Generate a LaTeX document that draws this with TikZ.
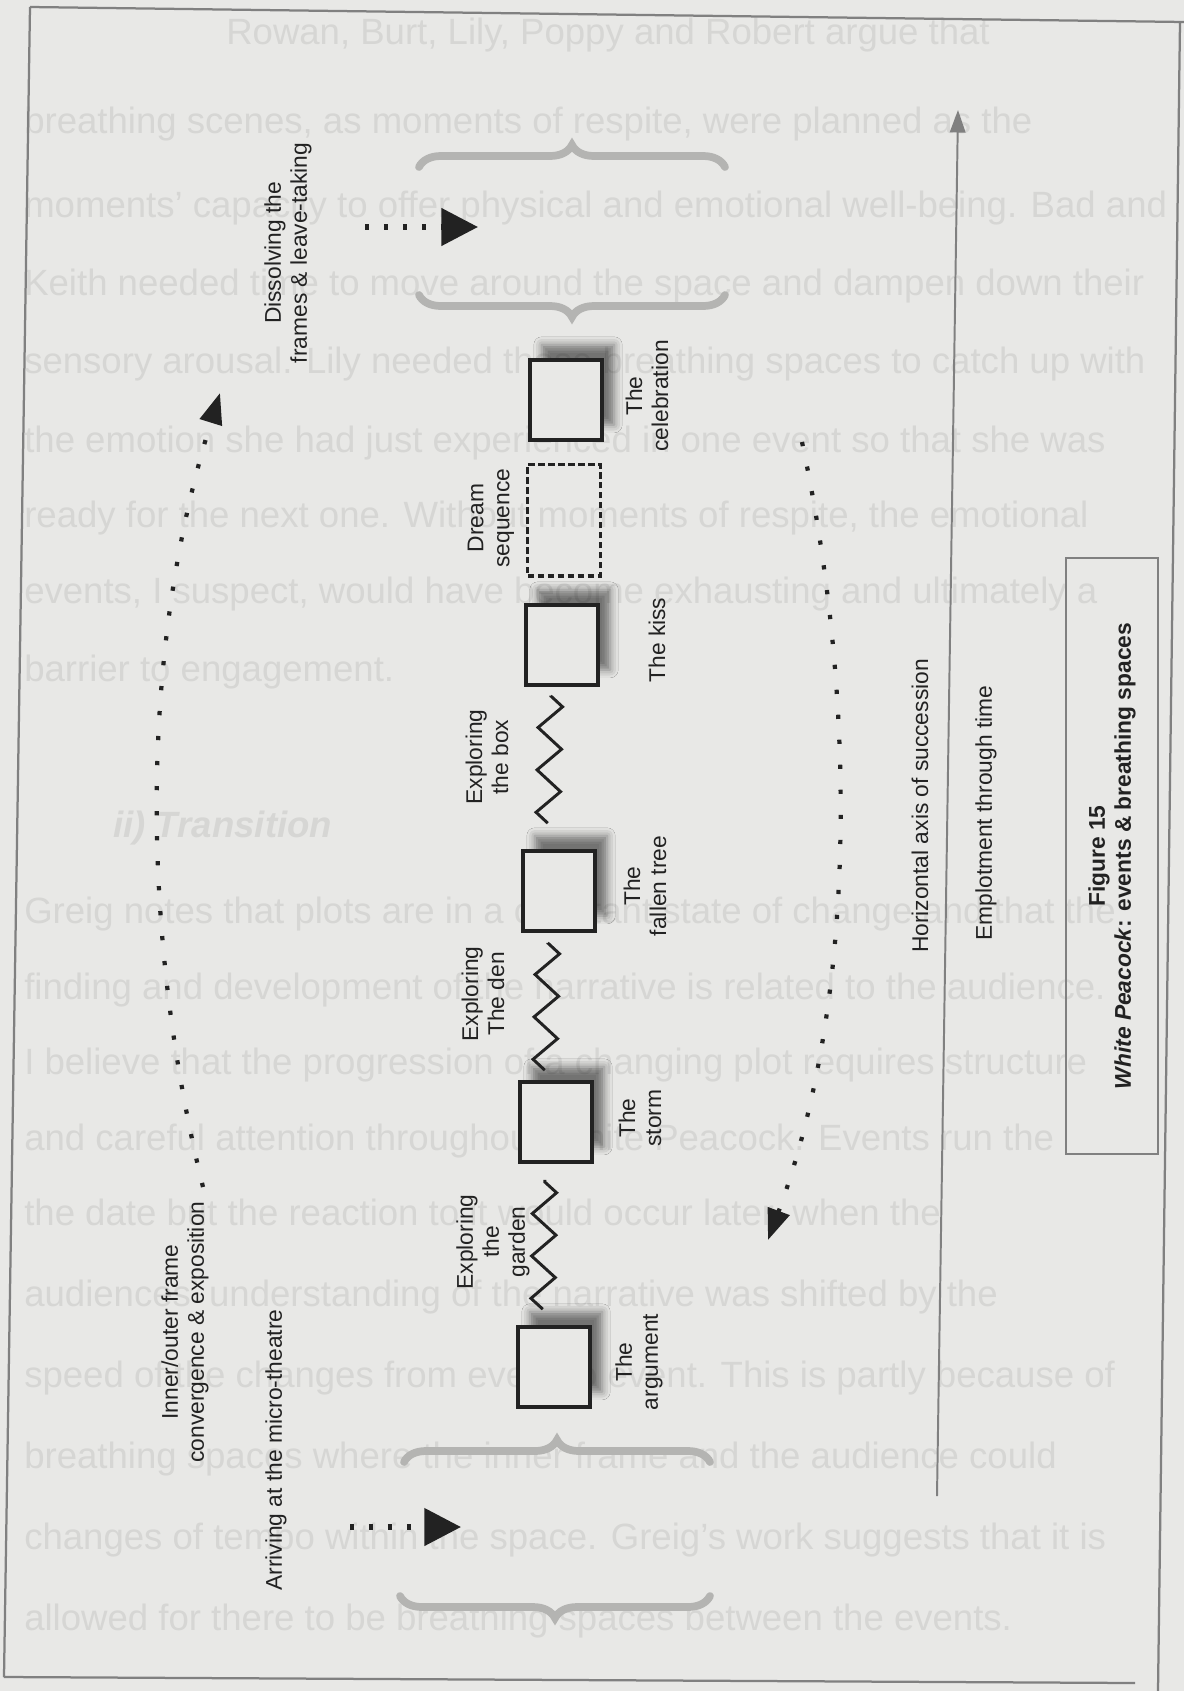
\documentclass[tikz,border=0pt]{standalone}
\usepackage{fontspec}
\setmainfont{Liberation Sans}
\usetikzlibrary{arrows.meta,decorations.pathmorphing,decorations.pathreplacing,shadows.blur,positioning}
\definecolor{paper}{RGB}{232,232,230}
\definecolor{ghost}{RGB}{214,214,212}
\definecolor{ink}{RGB}{34,34,34}
\definecolor{bracegrey}{RGB}{180,180,178}
\definecolor{axisgrey}{RGB}{128,128,128}
\begin{document}
\begin{tikzpicture}[x=0.025cm,y=-0.025cm,
	lbl/.style={rotate=90,align=center,text=ink,inner sep=0pt,font=\fontsize{16.2}{18.5}\selectfont},
	ghostline/.style={anchor=base west,inner sep=0pt,text=ghost,font=\fontsize{26}{30}\selectfont},
	eventbox/.style={draw=ink,line width=2.6pt,fill=paper,minimum width=1.81cm,minimum height=2cm,inner sep=0pt,
		blur shadow={shadow xshift=0.3cm,shadow yshift=0.38cm,shadow blur radius=0.2cm,shadow opacity=50}},
	dreambox/.style={draw=ink,line width=2.4pt,dash pattern=on 4.5pt off 2.6pt,minimum width=1.81cm,minimum height=2.79cm,inner sep=0pt},
	zig/.style={draw=ink,line width=2.1pt,decorate,decoration={zigzag,segment length=1.06cm,amplitude=0.3cm}},
	dotarc/.style={draw=ink,line width=3pt,dash pattern=on 3pt off 14.8pt,-{Triangle[length=22pt,width=16pt]}},
	dotarrow/.style={draw=ink,line width=4pt,dash pattern=on 3pt off 10.5pt,-{Triangle[length=26pt,width=26pt]}},
	bracket/.style={draw=bracegrey,line width=5.5pt,line cap=round,decorate,decoration={brace,amplitude=0.55cm}}]
		\useasboundingbox (0,0) rectangle (1184,1691);
		\fill[paper] (0,0) rectangle (1184,1691);
		%text of the facing page showing through
		\node[ghostline] (ghost0) at (226,44) {Rowan, Burt, Lily, Poppy and Robert argue that};
		\foreach \n/\gy/\gtext in {
			1/133/{breathing scenes, as moments of respite, were planned as the},
			2/217/{moments' capacity to offer physical and emotional well-being. Bad and},
			3/295/{Keith needed time to move around the space and dampen down their},
			4/373/{sensory arousal. Lily needed these breathing spaces to catch up with},
			5/452/{the emotion she had just experienced in one event so that she was},
			6/527/{ready for the next one. Without moments of respite, the emotional},
			7/603/{events, I suspect, would have become exhausting and ultimately a},
			8/681/{barrier to engagement.},
			9/923/{Greig notes that plots are in a constant state of change and that the},
			10/999/{finding and development of the narrative is related to the audience.},
			11/1074/{I believe that the progression of a changing plot requires structure},
			12/1150/{and careful attention throughout White Peacock. Events run the},
			13/1225/{the date but the reaction to it would occur later, when the},
			14/1306/{audiences' understanding of the narrative was shifted by the},
			15/1387/{speed of the changes from event to event. This is partly because of},
			16/1468/{breathing spaces where the inner frame and the audience could},
			17/1549/{changes of tempo within the space. Greig's work suggests that it is},
			18/1630/{allowed for there to be breathing spaces between the events.}}
		\node[ghostline] (ghost\n) at (24,\gy) {\gtext};
		\node[ghostline,font=\fontsize{26}{30}\selectfont\bfseries\itshape] (ghosthead) at (113,837) {ii) Transition};
		%page frame
		\draw[axisgrey,line width=1.6pt] (30,7) -- (1184,22) (1180,22) -- (1158,1691) (4,1677) -- (1135,1683) (30,7) -- (4,1677);
		%braces
		\draw[bracket] (419,167) -- (725,167);
		\draw[bracket] (725,295) -- (419,295);
		\draw[bracket] (404,1462) -- (710,1462);
		\draw[bracket] (710,1596) -- (400,1596);
		%events
		\node[eventbox] (argument) at (554,1367) {};
		\node[eventbox] (storm) at (556,1122) {};
		\node[eventbox] (fallen) at (559,891) {};
		\node[eventbox] (kiss) at (562,645) {};
		\node[dreambox] (dream) at (564,520) {};
		\node[eventbox] (celebration) at (566,400) {};
		\draw[zig] ([xshift=-0.28cm,yshift=0.4cm]argument.north) -- ([xshift=-0.28cm,yshift=-0.4cm]storm.south);
		\draw[zig] ([xshift=-0.28cm,yshift=0.25cm]storm.north) -- ([xshift=-0.28cm,yshift=-0.25cm]fallen.south);
		\draw[zig] ([xshift=-0.28cm,yshift=0.65cm]fallen.north) -- ([xshift=-0.28cm,yshift=-0.22cm]kiss.south);
		\node[lbl] (lblargument) at (639,1362) {The\\argument};
		\node[lbl] (lblgarden) at (493,1242) {Exploring\\the\\garden};
		\node[lbl] (lblstorm) at (640,1118) {The\\storm};
		\node[lbl] (lblden) at (483,994) {Exploring\\The den};
		\node[lbl] (lblfallen) at (645,886) {The\\fallen tree};
		\node[lbl] (lblbox) at (487,757) {Exploring\\the box};
		\node[lbl] (lblkiss) at (657,640) {The kiss};
		\node[lbl] (lbldream) at (491,518) {Dream\\sequence};
		\node[lbl] (lblcelebration) at (647,396) {The\\celebration};
		%arrival and leave-taking
		\node[lbl] (lblarrive) at (276,1450) {Arriving at the micro-theatre};
		\node[lbl] (lbldissolve) at (288,253) {Dissolving the\\frames \& leave-taking};
		\node[lbl] (lblinner) at (185,1332) {Inner/outer frame\\convergence \& exposition};
		\coordinate (arrivefrom) at (350,1527);
		\coordinate (arriveto) at (461,1527);
		\coordinate (leavefrom) at (365,227);
		\coordinate (leaveto) at (478,227);
		\draw[dotarrow] (arrivefrom) -- (arriveto);
		\draw[dotarrow] (leavefrom) -- (leaveto);
		\coordinate (innerfrom) at (203,1187);
		\coordinate (innerto) at (220,393);
		\draw[dotarc] (innerfrom) .. controls (140,930) and (140,650) .. (innerto);
		\coordinate (outerfrom) at (802,442);
		\coordinate (outerto) at (768,1240);
		\draw[dotarc] (outerfrom) .. controls (857,700) and (857,1000) .. (outerto);
		%time axis
		\coordinate (axisfoot) at (937,1496);
		\coordinate (axistop) at (958,110);
		\draw[axisgrey,line width=1.4pt,-{Triangle[length=16pt,width=11pt]}] (axisfoot) -- (axistop);
		\node[lbl] (lblsuccession) at (920,806) {Horizontal axis of succession};
		\node[lbl] (lblemplot) at (986,813) {Emplotment through time};
		\node[lbl,draw=axisgrey,line width=0.9pt,minimum width=14.9cm,minimum height=2.3cm,font=\fontsize{16.2}{18.5}\selectfont\bfseries] (caption) at (1112,856) {Figure 15\\\textit{White Peacock}: events \& breathing spaces};
\end{tikzpicture}
\end{document}
